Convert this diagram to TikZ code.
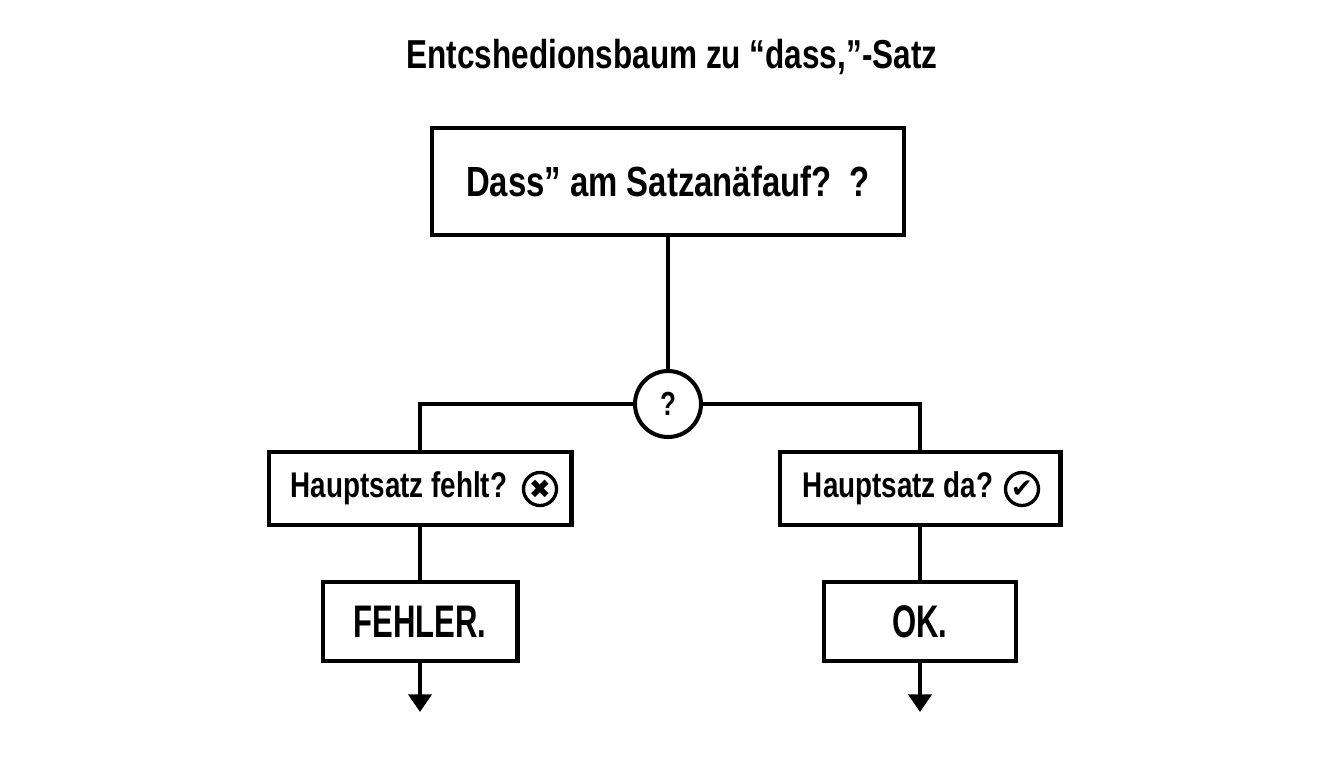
\documentclass[tikz,border=0pt]{standalone}
\usepackage{fontspec}
\setmainfont{Liberation Sans}[FakeStretch=0.78]
\newfontfamily\schmal{Liberation Sans}[FakeStretch=0.68]
\newfontfamily\symfont{DejaVu Sans}
\usetikzlibrary{arrows.meta}
\usetikzlibrary{positioning}

\begin{document}
\begin{tikzpicture}[x=0.02cm, y=-0.02cm, line width=2.3pt,
	box/.style={draw=black, rectangle, inner sep=0pt, font=\bfseries\fontsize{20.3}{24}\selectfont},
	bigbox/.style={box, font=\schmal\bfseries\fontsize{26}{30}\selectfont},
	symbol/.style={circle, draw=black, line width=1.9pt, minimum size=0.66cm, inner sep=0pt, font=\symfont\fontsize{15}{15}\selectfont},
	pfeil/.style={-{Triangle[width=13pt, length=10pt]}}]
	\useasboundingbox (0,0) rectangle (1344,768);
	\newcommand\colL{420}
	\newcommand\colR{920}
	\node[font=\bfseries\fontsize{23}{28}\selectfont] (titel) at (672,57) {Entcshedionsbaum zu “dass,”-Satz};
	\node[box, font=\bfseries\fontsize{24}{28}\selectfont, minimum width=9.46cm, minimum height=2.14cm] (frage) at (668,181.5) {Dass” am Satzanäfauf?\ \ ?};
	\node[circle, draw=black, fill=white, minimum size=1.32cm, inner sep=0pt, font=\bfseries\fontsize{19}{22}\selectfont] (knoten) at (668,404) {?};
	\node[box, minimum width=6.06cm, minimum height=1.46cm] (fehlt) at (\colL,488.5) {Hauptsatz fehlt?\kern0.84cm};
	\node[box, minimum width=5.62cm, minimum height=1.46cm] (da) at (\colR,488.5) {Hauptsatz da?\kern0.88cm};
	\node[symbol] (kreuz) at (540,489) {✖};
	\node[symbol] (haken) at (1022,489) {✔};
	\node[bigbox, minimum width=3.9cm, minimum height=1.58cm] (fehler) at (\colL,621.5) {FEHLER.};
	\node[bigbox, minimum width=3.84cm, minimum height=1.58cm] (ok) at (\colR,621.5) {OK.};
	\coordinate (endeL) at (\colL,712);
	\coordinate (endeR) at (\colR,712);
	\draw (frage) -- (knoten);
	\draw (knoten) -| (fehlt);
	\draw (knoten) -| (da);
	\draw (fehlt) -- (fehler);
	\draw (da) -- (ok);
	\draw[pfeil] (fehler) -- (endeL);
	\draw[pfeil] (ok) -- (endeR);
\end{tikzpicture}
\end{document}
